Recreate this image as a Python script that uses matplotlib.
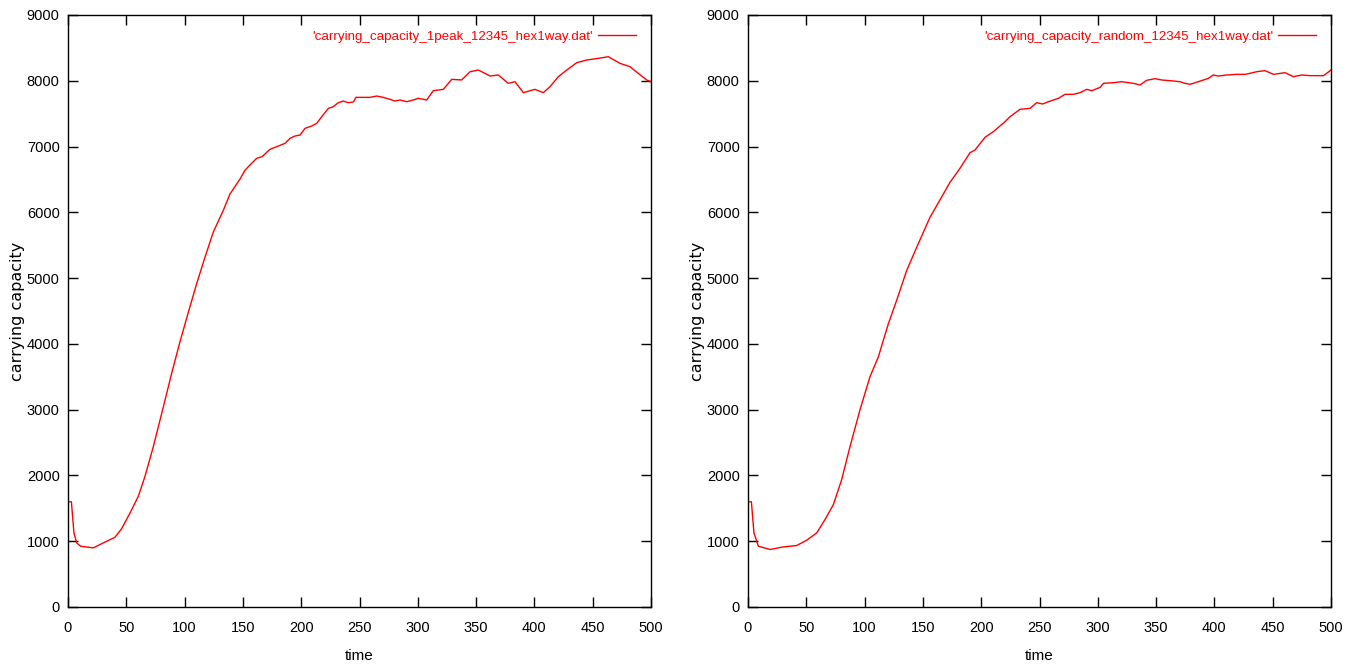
import matplotlib.pyplot as plt

# left panel: 1peak run (time, carrying capacity)
t_peak = [0, 2.9, 5.1, 7.4, 10.9, 21.7, 30.3, 40.3, 46, 53.2, 60.3, 66, 73.2, 81.8, 88.9,
          96, 103.2, 110.3, 117.5, 124.6, 133.2, 138.9, 147.5, 151.8, 156.1, 161.8, 166.4,
          173.2, 180.4, 186.1, 190.4, 194.7, 199, 203.3, 209, 213.3, 217.6, 223.3, 227.5,
          231.8, 236.1, 240.4, 244.7, 247, 251.9, 259, 264.7, 270.4, 276.2, 280.4, 284.7,
          290.5, 296.1, 300.4, 307.6, 313.3, 321.9, 329.1, 337.6, 344.8, 351.9, 354.8,
          362, 369, 377.6, 383.4, 390.5, 400.5, 407.6, 413.4, 420.5, 427.7, 436.3, 444.9,
          454.8, 463.4, 473.4, 482, 489.1, 496.3, 500]
cc_peak = [1600, 1600, 1126, 975, 924, 899, 975, 1060, 1190, 1429, 1682, 1985, 2439, 3045,
           3551, 4030, 4480, 4914, 5318, 5700, 6030, 6278, 6505, 6640, 6720, 6821, 6846,
           6958, 7008, 7049, 7125, 7160, 7175, 7277, 7312, 7353, 7454, 7581, 7606, 7667,
           7692, 7667, 7677, 7748, 7748, 7748, 7768, 7748, 7718, 7692, 7708, 7682, 7708,
           7733, 7708, 7849, 7870, 8022, 8012, 8138, 8163, 8138, 8072, 8088, 7961, 7986,
           7819, 7870, 7819, 7910, 8062, 8163, 8275, 8316, 8341, 8366, 8265, 8214, 8113,
           8012, 7986]

# right panel: random run
t_rand = [0, 2.9, 5.1, 8.9, 18.9, 30.3, 41.7, 50.3, 58.9, 66, 73.2, 80.3, 87.5, 96, 104.6,
          111.8, 120.4, 127.5, 136.1, 144.7, 156.1, 167.5, 173.2, 181.8, 190.4, 194.7,
          203.3, 210.4, 220.4, 224.7, 233.3, 241.9, 247.6, 252.7, 257.6, 266.2, 271.9, 279,
          284.7, 290.5, 294.8, 302, 304.8, 313.4, 320.5, 330.5, 336.2, 341.9, 349, 354.8,
          364.8, 370.5, 374.8, 379.1, 386.2, 394.8, 399.1, 403.4, 410.6, 419.2, 426.4,
          430.5, 436.3, 443.4, 450.6, 460.6, 467.8, 475, 482.2, 493.6, 500]
cc_rand = [1600, 1600, 1126, 924, 874, 914, 934, 1015, 1126, 1328, 1556, 1934, 2439, 2995,
           3500, 3803, 4308, 4662, 5116, 5470, 5924, 6278, 6455, 6669, 6906, 6947, 7141,
           7226, 7378, 7454, 7566, 7581, 7667, 7647, 7682, 7733, 7794, 7794, 7819, 7870,
           7849, 7900, 7961, 7971, 7986, 7961, 7936, 8007, 8032, 8012, 7997, 7986, 7961,
           7946, 7986, 8037, 8088, 8072, 8088, 8098, 8098, 8113, 8138, 8154, 8098, 8123,
           8062, 8088, 8078, 8078, 8163]

labels = ["'carrying_capacity_1peak_12345_hex1way.dat'",
          "'carrying_capacity_random_12345_hex1way.dat'"]

num_font = ['Liberation Sans', 'DejaVu Sans']

fig = plt.figure(figsize=(13.56, 6.66), dpi=100)
ax1 = fig.add_axes([68 / 1356, 59 / 666, 583 / 1356, 592 / 666])
ax2 = fig.add_axes([748 / 1356, 59 / 666, 583 / 1356, 592 / 666])

for ax, t, cc, lab in [(ax1, t_peak, cc_peak, labels[0]), (ax2, t_rand, cc_rand, labels[1])]:
    ax.plot(t, cc, color='red', lw=1.0, label=lab)
    ax.set_xlim(0, 500)
    ax.set_ylim(0, 9000)
    ax.set_xticks(range(0, 501, 50))
    ax.set_yticks(range(0, 9001, 1000))
    ax.tick_params(direction='in', length=7, width=1, top=True, right=True, labelsize=10.5)
    ax.tick_params(axis='x', pad=10)
    ax.tick_params(axis='y', pad=6)
    for lbl in ax.get_xticklabels() + ax.get_yticklabels():
        lbl.set_family(num_font)
    for sp in ax.spines.values():
        sp.set_linewidth(1.0)
    ax.set_xlabel('time', fontsize=11, family=num_font, labelpad=10)
    ax.set_ylabel('carrying capacity', fontsize=11.5, family='DejaVu Sans')
    ax.yaxis.set_label_coords(-0.074, 0.5)
    ax.legend(loc='upper right', frameon=False, markerfirst=False,
              labelcolor='red', handlelength=2.8, handletextpad=0.4,
              borderaxespad=0.75, prop={'family': num_font, 'size': 9.6})

plt.savefig('out.png', dpi=100)
plt.close(fig)
